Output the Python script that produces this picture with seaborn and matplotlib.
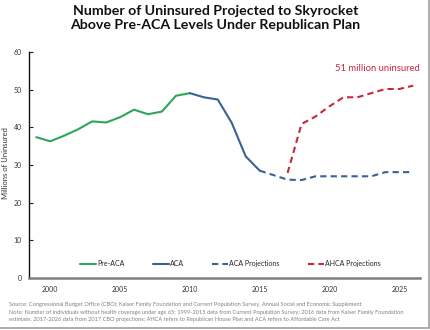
import matplotlib
matplotlib.use("Agg")
import matplotlib.pyplot as plt
import seaborn as sns
import pandas as pd

sns.set_theme(style="white")
plt.rcParams['font.family'] = ['Lato', 'DejaVu Sans']

pre_years = [1999, 2000, 2001, 2002, 2003, 2004, 2005, 2006, 2007, 2008, 2009, 2010]
pre_vals = [37.4, 36.3, 37.8, 39.5, 41.6, 41.3, 42.7, 44.7, 43.5, 44.2, 48.4, 49.1]

aca_years = [2010, 2011, 2012, 2013, 2014, 2015]
aca_vals = [49.1, 48.0, 47.4, 41.2, 32.3, 28.5]

acap_years = [2015, 2016, 2017, 2018, 2019, 2020, 2021, 2022, 2023, 2024, 2025, 2026]
acap_vals = [28.5, 27.3, 26.1, 26.0, 27.0, 27.0, 27.0, 27.0, 27.0, 28.1, 28.1, 28.1]

ahca_years = [2017, 2018, 2019, 2020, 2021, 2022, 2023, 2024, 2025, 2026]
ahca_vals = [27.9, 40.9, 42.9, 45.6, 48.0, 48.0, 49.1, 50.2, 50.2, 51.1]

labels = ["Pre-ACA", "ACA", "ACA Projections", "AHCA Projections"]
green = "#2ea65a"
blue = "#3b6195"
red = "#c8283c"

fig = plt.figure(figsize=(4.31, 3.30), dpi=100)
ax = fig.add_axes([0.067, 0.158, 0.908, 0.684])

sns.lineplot(x=pre_years, y=pre_vals, ax=ax, color=green, linewidth=1.5, label=labels[0])
sns.lineplot(x=aca_years, y=aca_vals, ax=ax, color=blue, linewidth=1.5, label=labels[1])
sns.lineplot(x=acap_years, y=acap_vals, ax=ax, color=blue, linewidth=1.5, label=labels[2])
ax.lines[-1].set_dashes((3, 2))
sns.lineplot(x=ahca_years, y=ahca_vals, ax=ax, color=red, linewidth=1.5, label=labels[3])
ax.lines[-1].set_dashes((3, 2))

ax.set_xlim(1998.47, 2026.5)
ax.set_ylim(0, 60)
ax.set_yticks([0, 10, 20, 30, 40, 50, 60])
ax.set_xticks([2000, 2005, 2010, 2015, 2020, 2025])
ax.tick_params(axis='y', direction='in', length=3, width=0.8, color='#222222',
               labelsize=5, labelcolor='#333333', pad=5, left=True)
ax.tick_params(axis='x', length=0, labelsize=5, labelcolor='#333333', pad=6)
ax.set_ylabel("Millions of Uninsured", fontsize=5.5, color='#333333')
ax.yaxis.set_label_coords(-0.052, 0.51)
ax.set_xlabel("")

for s in ['top', 'right']:
    ax.spines[s].set_visible(False)
ax.spines['left'].set_color('#111111')
ax.spines['left'].set_linewidth(1.0)
ax.spines['bottom'].set_color('#808080')
ax.spines['bottom'].set_linewidth(1.8)

leg = ax.legend(ncol=4, loc='lower center', bbox_to_anchor=(0.515, 0.02), frameon=False,
                fontsize=5, handlelength=2.3, handletextpad=0.2, columnspacing=4.0)

ax.text(2026.5, 55.6, "51 million uninsured", color=red, fontsize=6.8,
        ha='right', va='center')

fig.text(0.5, 0.945, "Number of Uninsured Projected to Skyrocket\nAbove Pre-ACA Levels Under Republican Plan",
         ha='center', va='center', fontsize=10.2, fontweight='bold', color='#111111', linespacing=1.2)

src = ("Source: Congressional Budget Office (CBO); Kaiser Family Foundation and Current Population Survey, Annual Social and Economic Supplement\n"
       "Note: Number of individuals without health coverage under age 65; 1999-2015 data from Current Population Survey; 2016 data from Kaiser Family Foundation\n"
       "estimate; 2017-2026 data from 2017 CBO projections; AHCA refers to Republican House Plan and ACA refers to Affordable Care Act")
fig.text(0.021, 0.055, src, ha='left', va='center', fontsize=4.05, color='#808080', linespacing=1.55)

fig.add_artist(plt.Line2D([0, 0.995], [0.006, 0.006], transform=fig.transFigure, color='#a0a0a0', linewidth=1.2))
fig.add_artist(plt.Line2D([0.995, 0.995], [0.006, 1.0], transform=fig.transFigure, color='#a0a0a0', linewidth=1.2))

fig.savefig("out.png", dpi=100)
